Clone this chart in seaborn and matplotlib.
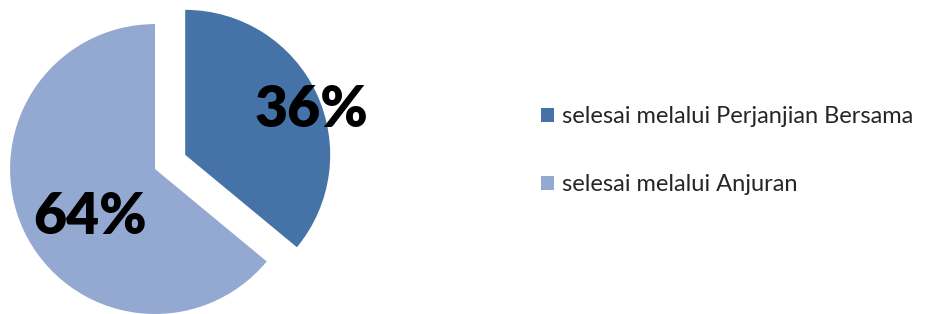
import matplotlib
matplotlib.use("Agg")
import matplotlib.pyplot as plt
import seaborn as sns

sns.set_theme(style="white")
plt.rcParams['font.family'] = ['Lato', 'DejaVu Sans']

# data
kategori = ["selesai melalui Perjanjian Bersama", "selesai melalui Anjuran"]
persen = [36, 64]
warna = ["#4573A7", "#94A9D1"]
label_teks = ["36%", "64%"]

fig = plt.figure(figsize=(9.33, 3.14), dpi=100)
ax = fig.add_axes([0, 0, 1, 1])

wedges, _ = ax.pie(persen, colors=warna, startangle=90, counterclock=False,
                   explode=[0.23, 0], radius=1.0,
                   wedgeprops=dict(linewidth=0))

ax.set_xlim(-1.069, 5.366)
ax.set_ylim(-1.0, 1.166)
ax.set_aspect("equal")
ax.axis("off")

# label persen
ax.text(1.08, 0.41, label_teks[0], ha="center", va="center",
        fontsize=41, fontweight="heavy", color="black")
ax.text(-0.45, -0.33, label_teks[1], ha="center", va="center",
        fontsize=41, fontweight="heavy", color="black")

leg = fig.legend(wedges, kategori, loc="center left",
                 bbox_to_anchor=(0.557, 0.52), frameon=False,
                 fontsize=17, handlelength=0.55, handleheight=0.55,
                 handletextpad=0.35, labelspacing=2.0)

fig.savefig("out.png", dpi=100)
